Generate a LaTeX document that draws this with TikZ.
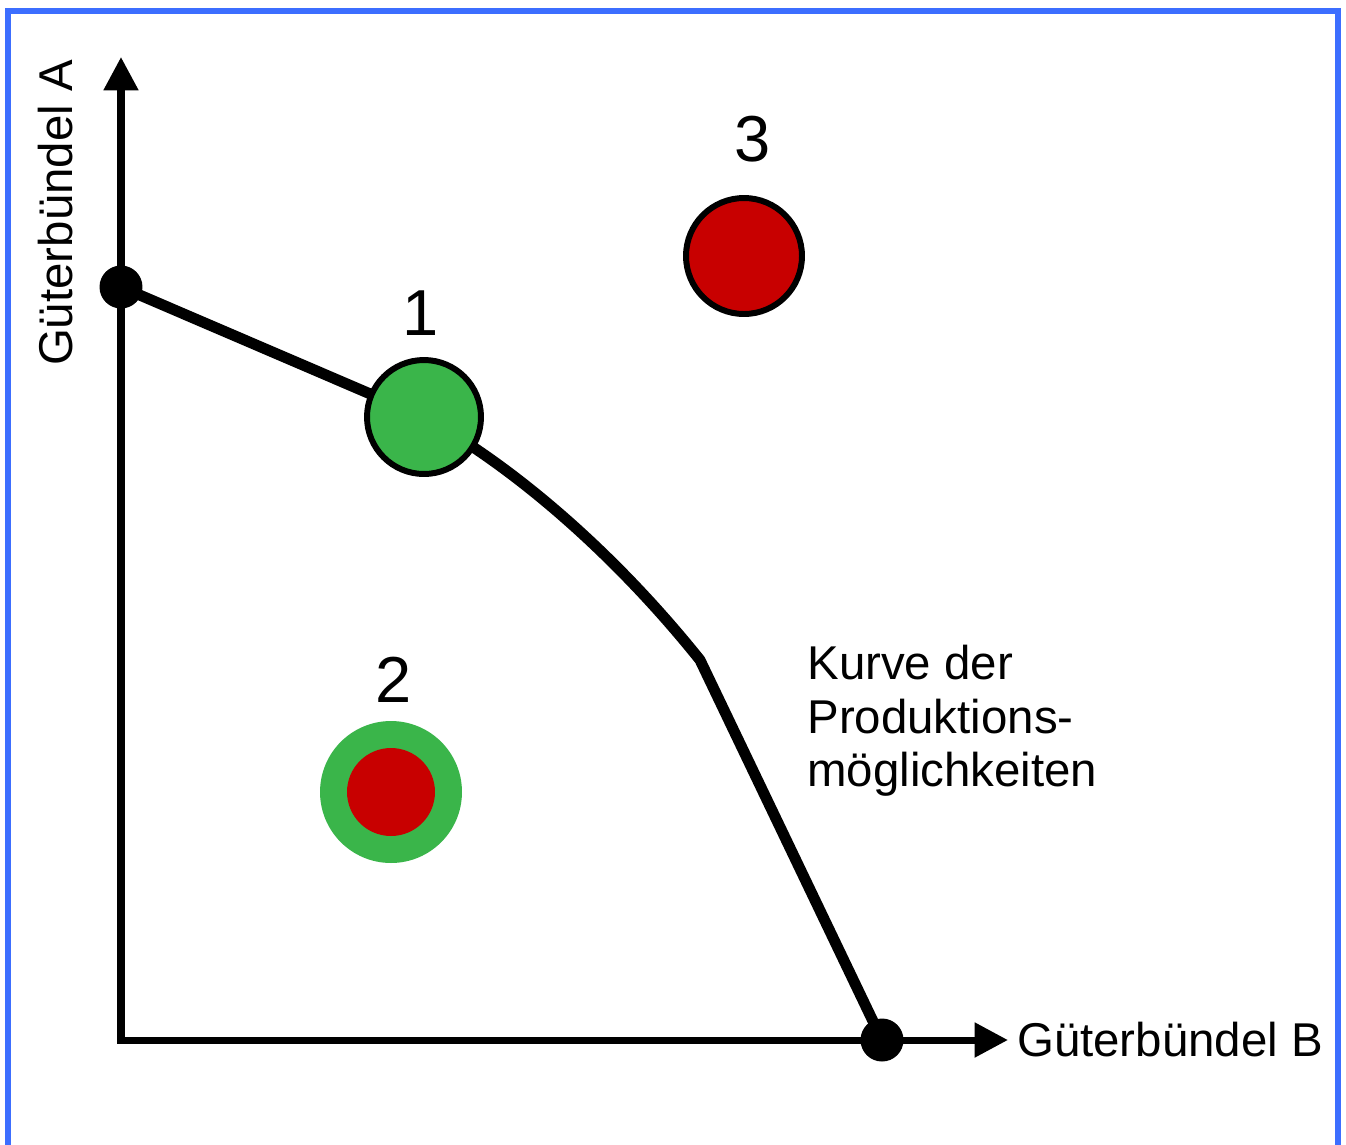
\documentclass[tikz,border=0pt]{standalone}
\usepackage{fontspec}
\setmainfont{Liberation Sans}
\usetikzlibrary{positioning,arrows.meta}
\definecolor{goodgreen}{RGB}{58,181,74}
\definecolor{badred}{RGB}{200,0,0}
\definecolor{frameblue}{RGB}{60,110,255}

\begin{document}
\begin{tikzpicture}[x=0.02cm,y=-0.02cm,>={Triangle[length=19pt,width=19pt]},
  axis/.style={line width=4pt},
  dot/.style={circle,fill=black,inner sep=0pt,minimum size=0.86cm},
  lbl/.style={font=\fontsize{27}{30.4}\selectfont,inner sep=0pt},
  num/.style={font=\fontsize{37}{44}\selectfont,inner sep=0pt}]
  \useasboundingbox (0,0) rectangle (1346,1144);
  \fill[white] (0,0) rectangle (1346,1144);
  \clip (0,0) rectangle (1346,1144);
  \draw[frameblue,line width=3.4pt] (8,11) rectangle (1338,1170);

  % axes
  \coordinate (o) at (121,1040);
  \coordinate (ytip) at (121,57);
  \coordinate (xtip) at (1008,1040);
  \draw[axis,<->] (ytip) -- (o) -- (xtip);
  \node[lbl,right=5pt of xtip,anchor=west] (xlab) {Güterbündel B};
  \node[lbl,rotate=90] (ylab) at (56,213) {Güterbündel A};

  % production possibility curve
  \coordinate (pa) at (121,287);
  \coordinate (pb) at (882,1040);
  \coordinate (p1) at (424,417);
  \coordinate (kink) at (700,660);
  \draw[line width=6.2pt,line join=round] (pa) -- (p1)
    .. controls (520,470) and (620,560) .. (kink) -- (pb);
  \node[dot] (da) at (pa) {};
  \node[dot] (db) at (pb) {};
  \node[lbl,align=left,anchor=north west] (curve) at (807,645)
    {Kurve der\\Produktions-\\möglichkeiten};

  % bundles
  \node[circle,draw,line width=3.4pt,fill=goodgreen,inner sep=0pt,minimum size=2.28cm] (c1) at (p1) {};
  \node[circle,fill=goodgreen,inner sep=0pt,minimum size=2.84cm] (c2) at (391,792) {};
  \node[circle,fill=badred,inner sep=0pt,minimum size=1.76cm] (c2in) at (c2) {};
  \node[circle,draw,line width=3.4pt,fill=badred,inner sep=0pt,minimum size=2.32cm] (c3) at (744,256) {};
  \node[num] (n1) at (421,313) {1};
  \node[num] (n2) at (394,680) {2};
  \node[num] (n3) at (753,139) {3};
\end{tikzpicture}
\end{document}
